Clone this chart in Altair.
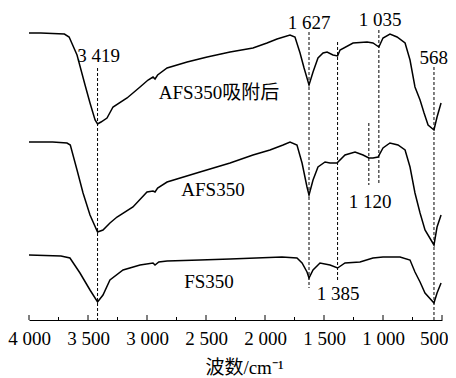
import altair as alt
import pandas as pd

# Spectra: (wavenumber cm^-1, relative transmittance, arbitrary offset units)
afs350_after = [
    (4000, 287), (3900, 287), (3800, 286.5), (3700, 286), (3660, 283), (3593, 265),
    (3525, 235), (3483, 217), (3440, 200), (3419, 196), (3390, 198), (3339, 202),
    (3288, 213), (3169, 222), (3059, 233), (2991, 240), (2949, 243), (2932, 241),
    (2910, 245), (2830, 252), (2660, 258), (2490, 263), (2296, 268), (2102, 272),
    (1983, 277), (1898, 281), (1788, 285), (1746, 283), (1703, 267), (1669, 252),
    (1627, 235), (1593, 248), (1551, 262), (1508, 267), (1474, 268), (1424, 265),
    (1385, 264), (1364, 270), (1254, 277), (1135, 278), (1085, 277), (1035, 273),
    (1000, 282), (941, 286), (881, 283), (813, 277), (771, 260), (729, 233),
    (686, 220), (652, 207), (618, 195), (568, 190), (542, 203), (508, 217),
]
afs350 = [
    (4000, 178), (3800, 178), (3678, 177), (3650, 175), (3593, 150), (3542, 127),
    (3483, 105), (3419, 88), (3373, 90), (3314, 97), (3254, 103), (3119, 113),
    (3000, 128), (2949, 129), (2932, 128), (2910, 132), (2830, 138), (2551, 148),
    (2296, 157), (2102, 165), (1958, 170), (1847, 175), (1788, 178), (1729, 175),
    (1686, 157), (1644, 133), (1627, 125), (1593, 140), (1551, 153), (1491, 158),
    (1449, 157), (1390, 157), (1322, 165), (1237, 168), (1169, 165), (1120, 162),
    (1085, 162), (1042, 163), (1000, 172), (941, 177), (873, 175), (813, 170),
    (771, 153), (729, 127), (686, 107), (644, 90), (568, 75), (542, 93), (508, 105),
]
fs350 = [
    (4000, 65), (3729, 64), (3653, 62), (3568, 47), (3483, 30), (3419, 18),
    (3373, 25), (3314, 40), (3203, 50), (3059, 55), (2949, 57), (2932, 55),
    (2900, 58), (2830, 59), (2551, 60), (2296, 61), (1856, 63), (1729, 62),
    (1686, 57), (1644, 48), (1627, 42), (1593, 50), (1534, 57), (1449, 55),
    (1385, 52), (1322, 57), (1195, 58), (1085, 62), (1000, 63), (856, 63),
    (771, 60), (729, 48), (686, 38), (644, 27), (568, 17), (542, 27), (508, 37),
]

# Peak marker lines
peak_wn = [3419, 1627, 1385, 1120, 1035, 568]
peak_top = [252, 288, 278, 197, 290, 253]
peak_bottom = [0, 32, 38, 135, 137, 0]

# Annotations
label_text = ["3 419", "1 627", "1 035", "568", "1 120", "1 385",
              "AFS350吸附后", "AFS350", "FS350"]
label_wn = [3411, 1627, 1025, 570, 1110, 1381, 2390, 2441, 2475]
label_val = [264, 297, 300, 262, 118, 26, 227, 130, 38]

major_ticks = [4000, 3500, 3000, 2500, 2000, 1500, 1000, 500]
minor_ticks = [3750, 3250, 2750, 2250, 1750, 1250, 750]

FONT = "Liberation Serif, Noto Sans CJK SC"

rows = []
for name, series in [("AFS350吸附后", afs350_after), ("AFS350", afs350), ("FS350", fs350)]:
    for w, v in series:
        rows.append({"series": name, "wn": w, "val": v})
df = pd.DataFrame(rows)

peaks = pd.DataFrame({"wn": peak_wn, "top": peak_top, "bottom": peak_bottom})
labels = pd.DataFrame({"text": label_text, "wn": label_wn, "val": label_val})
ticks_major = pd.DataFrame({"wn": major_ticks})
ticks_minor = pd.DataFrame({"wn": minor_ticks})

H = 312
xscale = alt.Scale(domain=[4000, 500], nice=False, zero=False)
yscale = alt.Scale(domain=[0, H], nice=False, zero=False)

xaxis = alt.Axis(
    values=major_ticks, tickSize=0, grid=False,
    labelExpr="replace(format(datum.value, ','), ',', ' ')",
    labelFont=FONT, labelFontSize=19, labelColor="black", labelPadding=9,
    labelFlush=False, labelOverlap=False,
    labelAlign={"condition": {"test": "datum.value === 500", "value": "right"}, "value": "center"},
    labelOffset={"condition": {"test": "datum.value === 500", "value": 6}, "value": 0},
    domainColor="black", domainWidth=1,
    title="波数/cm⁻¹", titleFont=FONT, titleFontSize=19, titleFontWeight="normal",
    titleColor="black", titlePadding=10, titleX=215,
)

lines = alt.Chart(df).mark_line(color="black", strokeWidth=1.5).encode(
    x=alt.X("wn:Q", scale=xscale, axis=xaxis),
    y=alt.Y("val:Q", scale=yscale, axis=None),
    detail="series:N",
)

rules = alt.Chart(peaks).mark_rule(color="black", strokeWidth=1, strokeDash=[3, 2]).encode(
    x=alt.X("wn:Q", scale=xscale),
    y=alt.Y("top:Q", scale=yscale),
    y2="bottom:Q",
)

texts = alt.Chart(labels).mark_text(
    font=FONT, fontSize=19, color="black", align="center", baseline="middle"
).encode(
    x=alt.X("wn:Q", scale=xscale),
    y=alt.Y("val:Q", scale=yscale),
    text="text:N",
)

tmaj = alt.Chart(ticks_major).mark_rule(color="black", strokeWidth=1).encode(
    x=alt.X("wn:Q", scale=xscale),
    y=alt.value(H), y2=alt.value(H - 5),
)
tmin = alt.Chart(ticks_minor).mark_rule(color="black", strokeWidth=1).encode(
    x=alt.X("wn:Q", scale=xscale),
    y=alt.value(H), y2=alt.value(H - 3),
)

chart = alt.layer(lines, rules, tmaj, tmin, texts).properties(
    width=413, height=H,
    autosize=alt.AutoSizeParams(type="none"),
    padding={"left": 21, "top": 0, "right": 6, "bottom": 56},
    background="white",
).configure_view(stroke=None)

chart.save("out.html", embed_options={"renderer": "svg", "actions": False})
